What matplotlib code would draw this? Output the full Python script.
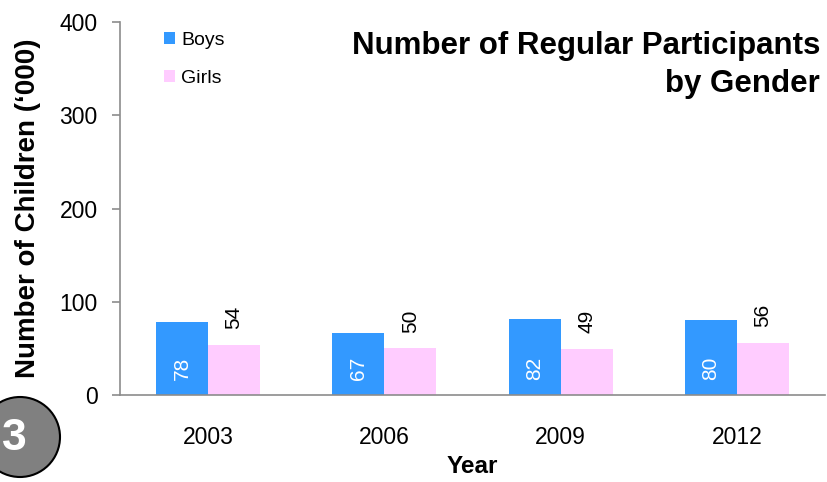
import matplotlib
matplotlib.use('Agg')
import matplotlib.pyplot as plt
import numpy as np
from matplotlib.patches import Circle

years = ["2003", "2006", "2009", "2012"]
boys = [78, 67, 82, 80]
girls = [54, 50, 49, 56]

BOYS_COLOR = "#3399FF"
GIRLS_COLOR = "#FFCCFF"
AXIS_GREY = "#8C8C8C"

plt.rcParams['font.family'] = ['Liberation Sans', 'DejaVu Sans']

fig = plt.figure(figsize=(8.27, 4.82), dpi=100)
ax = fig.add_axes([0.145, 0.1805, 0.8525, 0.7738])

x = np.arange(len(years))
w = 0.295
ax.bar(x - w / 2, boys, w, color=BOYS_COLOR, label="Boys")
ax.bar(x + w / 2, girls, w, color=GIRLS_COLOR, label="Girls")

# value labels: boys inside (white), girls above the bar
for xi, v in zip(x, boys):
    ax.text(xi - w / 2, 29, str(v), rotation=90, color="white",
            ha="center", va="center", fontsize=15)
for xi, v in zip(x, girls):
    ax.text(xi + w / 2, v + 17, str(v), rotation=90, color="black",
            ha="center", va="bottom", fontsize=15)

ax.set_xlim(-0.5, 3.5)
ax.set_ylim(0, 400)
ax.set_yticks(range(0, 401, 100))
ax.set_xticks(x)
ax.set_xticklabels(years)
ax.tick_params(axis="x", length=0, labelsize=16.5, pad=22)
ax.tick_params(axis="y", labelsize=16.5, color=AXIS_GREY, length=6, width=1.2,
               direction="out", pad=10)
for s in ["top", "right"]:
    ax.spines[s].set_visible(False)
for s in ["left", "bottom"]:
    ax.spines[s].set_color(AXIS_GREY)
    ax.spines[s].set_linewidth(1.2)

ax.set_xlabel("Year", fontsize=17.5, fontweight="bold", labelpad=5)
ax.set_ylabel("Number of Children (\u2018000)", fontsize=20, fontweight="bold", labelpad=13)

ax.text(0.993, 0.976, "Number of Regular Participants\nby Gender", transform=ax.transAxes,
        ha="right", va="top", fontsize=22.5, fontweight="bold", linespacing=1.35)

ax.legend(loc="upper left", bbox_to_anchor=(0.062, 0.974), frameon=False, fontsize=14,
          borderpad=0, borderaxespad=0,
          handlelength=0.6, handleheight=0.6, handletextpad=0.3, labelspacing=1.1)

# numbered badge in bottom left corner (display coords)
circ = Circle((20, 45), 40, transform=None, facecolor="#808080", edgecolor="black",
              linewidth=1.5, clip_on=False)
fig.patches.append(circ)
fig.text(14 / 827, 1 - 439 / 482, "3", ha="center", va="center", color="white",
         fontsize=32, fontweight="bold")

fig.savefig("out.png", dpi=100)
